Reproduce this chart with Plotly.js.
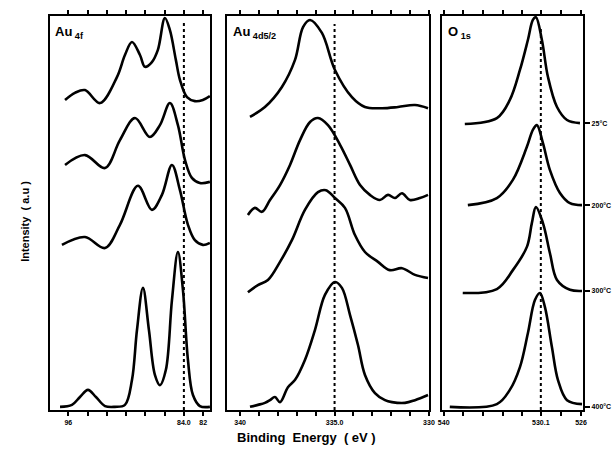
<!DOCTYPE html>
<html><head><meta charset="utf-8">
<script src="https://cdn.plot.ly/plotly-3.0.1.min.js"></script>
<style>html,body{margin:0;padding:0;background:#fff}#chart{width:613px;height:455px}</style>
</head><body><div id="chart"></div>
<script>
// Temperatures (top to bottom)
const temps = ["25°C", "200°C", "300°C", "400°C"];
const baselines = [72.8, 52.0, 30.2, 0.8];

// Au 4f spectra (binding energy eV, intensity a.u. incl. stacking offset)
const au4f_E1 = [96.34,95.31,94.27,92.71,90.95,90.12,89.39,88.56,88.04,87.32,86.70,85.97,85.45,84.83,84.41,83.68,82.86,82.03,81.30];
const au4f_I1 = [78.7,80.5,81.2,77.9,84.5,90.1,93.4,90.1,87.1,88.3,91.4,99.5,96.4,88.8,83.8,79.4,78.4,78.7,79.7];
const au4f_E2 = [96.34,94.27,92.19,90.64,89.08,87.53,86.49,85.45,84.62,83.89,83.17,82.34,81.30];
const au4f_I2 = [62.2,64.7,61.4,68.5,74.1,69.3,72.3,77.9,72.3,63.5,58.9,57.6,57.9];
const au4f_E3 = [96.66,94.27,92.19,90.64,88.77,87.32,86.28,85.24,84.41,83.58,82.86,82.03,81.30];
const au4f_I3 = [41.9,43.9,41.1,47.0,56.9,50.8,54.6,62.2,55.8,47.0,43.1,41.9,42.4];
const au4f_E4 = [96.86,95.62,94.79,93.96,93.13,92.19,91.16,90.12,89.39,88.87,88.25,87.63,87.01,86.49,85.87,85.24,84.62,84.10,83.58,83.06,82.34,81.30];
const au4f_I4 = [0.8,1.3,3.3,5.1,3.3,1.0,0.8,1.3,7.6,20.3,31.0,20.3,8.9,6.3,10.2,27.9,40.1,30.5,12.7,3.8,1.0,0.8];

// Au 4d5/2 spectra
const au4d_E1 = [339.48,338.69,337.79,337.10,336.67,336.30,335.67,334.98,334.08,333.39,332.49,331.64,330.74,330.05];
const au4d_I1 = [74.4,76.9,82.0,88.8,97.2,99.0,95.7,86.3,79.4,76.9,76.6,76.9,77.4,76.6];
const au4d_E2 = [339.59,339.22,338.85,338.42,337.89,337.36,336.83,336.30,335.88,335.35,334.71,334.18,333.65,333.13,332.60,332.17,331.80,331.43,331.01,330.48,330.05];
const au4d_I2 = [49.5,51.3,50.3,53.3,57.1,62.2,68.5,73.1,74.1,72.3,67.3,62.2,57.1,54.6,53.3,54.6,53.8,55.0,53.3,53.8,54.6];
const au4d_E3 = [339.59,339.06,338.53,337.89,337.26,336.57,335.88,335.46,334.98,334.45,333.92,333.39,332.70,332.07,331.43,330.74,330.05];
const au4d_I3 = [29.9,31.7,33.0,37.6,43.1,50.8,55.3,55.8,53.8,51.3,44.4,40.1,37.6,35.5,36.0,34.3,33.5];
const au4d_E4 = [339.48,339.06,338.69,338.42,338.16,337.89,337.47,337.10,336.57,336.04,335.51,334.98,334.61,334.18,333.76,333.39,332.86,332.33,331.96,331.27,330.74,330.05];
const au4d_I4 = [0.8,1.3,1.8,2.5,3.3,2.0,5.8,7.6,12.7,20.3,29.2,32.5,31.0,24.1,16.5,8.9,4.3,2.5,2.0,1.8,2.5,3.8];

// O 1s spectra
const o1s_E1 = [537.85,534.58,533.26,532.23,531.42,530.91,530.60,529.99,529.37,528.45,527.43,526.11];
const o1s_I1 = [72.6,74.1,78.7,86.3,93.9,99.0,99.7,93.9,84.5,76.9,73.6,72.8];
const o1s_E2 = [537.54,534.58,532.95,531.52,530.91,530.50,529.89,529.17,528.15,527.13,525.90];
const o1s_I2 = [52.0,53.8,58.4,66.8,71.1,72.3,67.8,60.9,55.1,52.5,52.0];
const o1s_E3 = [538.06,534.58,532.95,531.52,531.01,530.60,529.89,529.17,528.45,527.13,525.90];
const o1s_I3 = [29.7,30.7,35.5,41.4,47.5,51.5,47.5,39.8,33.0,30.5,30.2];
const o1s_E4 = [539.38,534.58,533.26,532.23,531.42,530.70,530.19,529.68,528.97,528.35,527.43,525.90];
const o1s_I4 = [0.8,1.5,5.1,10.9,19.5,27.9,29.7,26.1,16.0,7.6,2.5,1.5];

// Reference (dotted) energies
const refE = [84.0, 335.0, 530.1];

// Tick labels (labelled ticks) and unlabelled tick marks
const t1vals = [96, 84, 82];
const t1text = ["96", "84.0", "82"];
const t1minor = [94, 92, 90, 88, 86];
const t2vals = [340, 335, 330];
const t2text = ["340", "335.0", "330"];
const t2minor = [339, 338, 337, 336, 334, 333, 332, 331];
const t3vals = [540, 530.1, 526];
const t3text = ["540", "530.1", "526"];
const t3minor = [538, 536, 534, 532, 528];

const FONT = "Liberation Sans, Arial, sans-serif";
const lineStyle = {color:"#000", width:2.6, shape:"spline", smoothing:1};

const sets = [
  [[au4f_E1,au4f_I1],[au4f_E2,au4f_I2],[au4f_E3,au4f_I3],[au4f_E4,au4f_I4]],
  [[au4d_E1,au4d_I1],[au4d_E2,au4d_I2],[au4d_E3,au4d_I3],[au4d_E4,au4d_I4]],
  [[o1s_E1,o1s_I1],[o1s_E2,o1s_I2],[o1s_E3,o1s_I3],[o1s_E4,o1s_I4]]
];
const axN = ["", "2", "3"];
const traces = [];
sets.forEach((s, p) => {
  s.forEach(([e, i], k) => {
    traces.push({x:e, y:i, type:"scatter", mode:"lines", line:lineStyle,
      xaxis:"x"+axN[p], yaxis:"y"+axN[p], name:temps[k], showlegend:false, hoverinfo:"skip"});
  });
});

function xa(range, domain, tv, tt, mv) {
  return {range:range, domain:domain, showline:true, linewidth:2.2, linecolor:"#000", mirror:"ticks",
    ticks:"outside", ticklen:4, tickwidth:2, tickcolor:"#000", tickmode:"array", tickvals:tv, ticktext:tt,
    minor:{tickmode:"array", tickvals:mv, ticks:"outside", ticklen:4, tickwidth:2, tickcolor:"#000", showgrid:false},
    showgrid:false, zeroline:false, tickfont:{family:FONT, size:7, color:"#000", weight:"bold"}, fixedrange:true};
}
function ya(anchor) {
  return {range:[0,100], domain:[0,1], anchor:anchor, showline:true, linewidth:2.2, linecolor:"#000",
    mirror:true, ticks:"", showticklabels:false, showgrid:false, zeroline:false, fixedrange:true};
}

const layout = {
  width:613, height:455, margin:{l:50, r:30, t:16, b:45},
  paper_bgcolor:"#fff", plot_bgcolor:"#fff", showlegend:false,
  xaxis: Object.assign(xa([97.9,81.3],[0,0.300],t1vals,t1text,t1minor), {anchor:"y"}),
  xaxis2: Object.assign(xa([340.7,330.0],[0.332,0.711],t2vals,t2text,t2minor), {anchor:"y2"}),
  xaxis3: Object.assign(xa([540.2,525.8],[0.735,1],t3vals,t3text,t3minor), {anchor:"y3"}),
  yaxis: ya("x"),
  yaxis2: ya("x2"),
  yaxis3: Object.assign(ya("x3"), {side:"right", ticks:"outside", ticklen:5, tickwidth:2, tickcolor:"#000",
    tickmode:"array", tickvals:baselines, ticktext:temps, showticklabels:true,
    tickfont:{family:FONT, size:7, color:"#000", weight:"bold"}}),
  shapes: refE.map((e, p) => ({type:"line", xref:"x"+axN[p], yref:"y"+axN[p], x0:e, x1:e,
    y0:0, y1:[99,98,97][p], line:{color:"#000", width:2, dash:"dot"}})),
  annotations: [
    {xref:"x domain", yref:"y domain", x:0.02, y:0.985, xanchor:"left", yanchor:"top", showarrow:false,
     text:"<b>Au</b><sub><b> 4f</b></sub>", font:{family:FONT, size:13, color:"#000"}},
    {xref:"x2 domain", yref:"y2 domain", x:0.02, y:0.985, xanchor:"left", yanchor:"top", showarrow:false,
     text:"<b>Au</b><sub><b> 4d5/2</b></sub>", font:{family:FONT, size:13, color:"#000"}},
    {xref:"x3 domain", yref:"y3 domain", x:0.03, y:0.985, xanchor:"left", yanchor:"top", showarrow:false,
     text:"<b>O</b><sub><b> 1s</b></sub>", font:{family:FONT, size:13, color:"#000"}},
    {xref:"paper", yref:"paper", x:-0.062, y:0.48, textangle:-90, showarrow:false,
     text:"<b>Intensity  ( a.u )</b>", font:{family:FONT, size:11, color:"#000"}},
    {xref:"paper", yref:"paper", x:0.482, y:-0.07, yanchor:"middle", showarrow:false,
     text:"<b>Binding  Energy  ( eV )</b>", font:{family:FONT, size:13, color:"#000"}}
  ]
};
Plotly.newPlot("chart", traces, layout, {staticPlot:true, displayModeBar:false});
</script></body></html>
